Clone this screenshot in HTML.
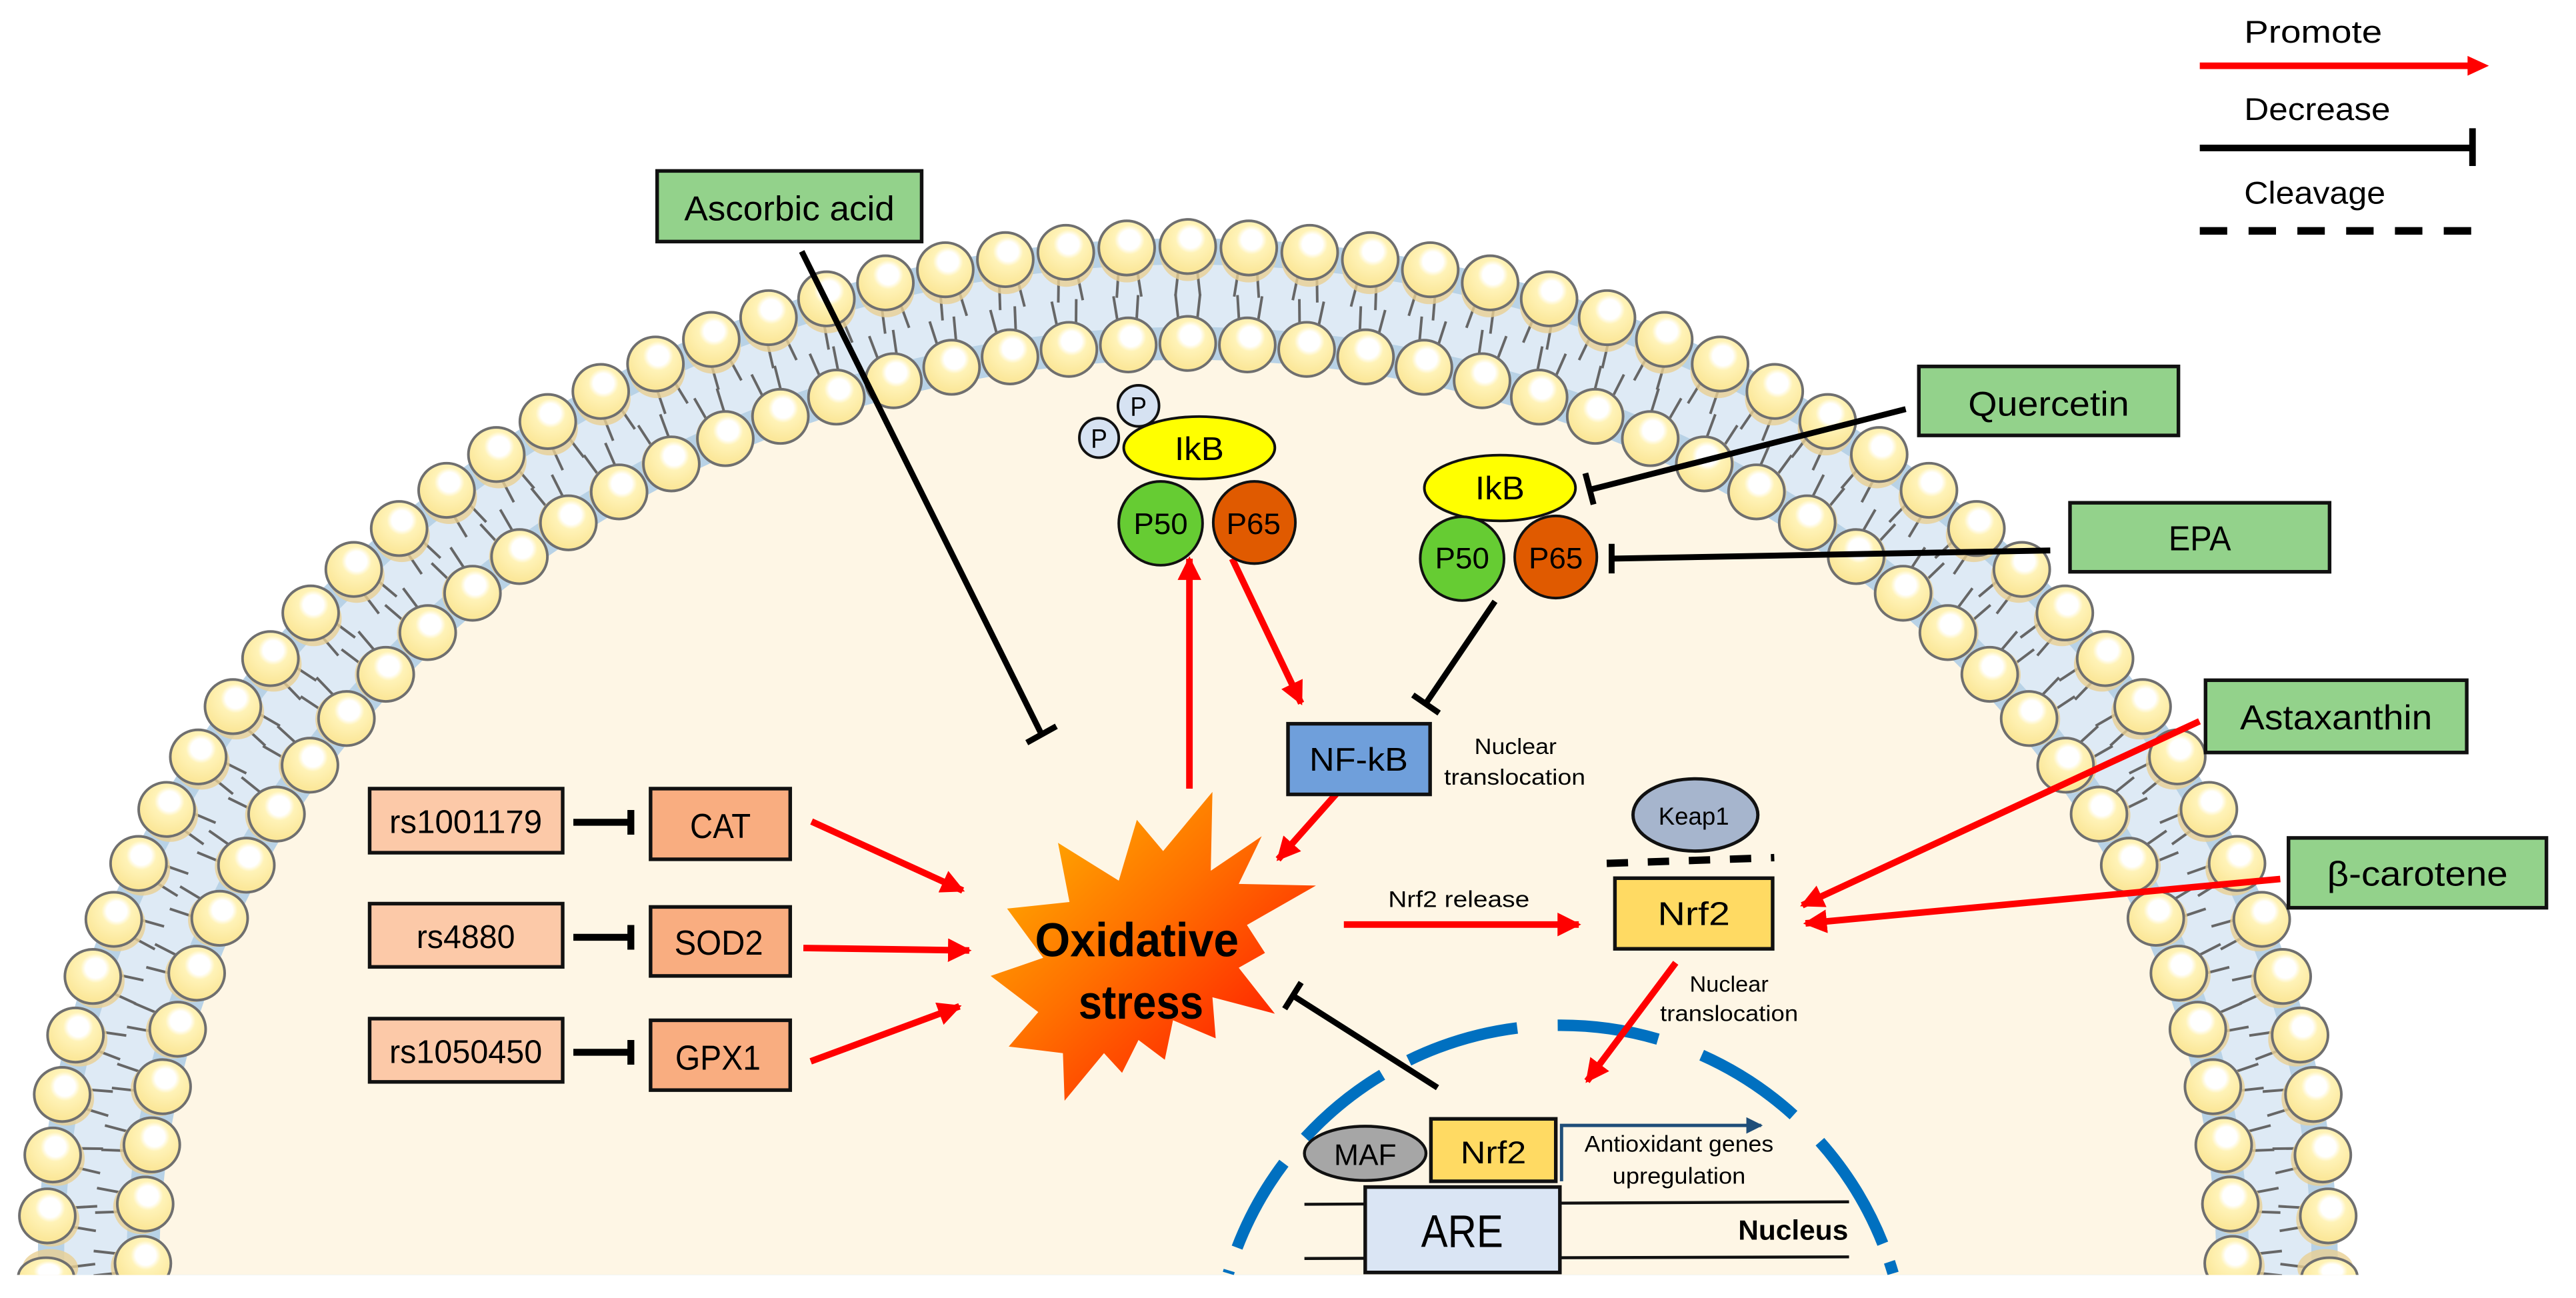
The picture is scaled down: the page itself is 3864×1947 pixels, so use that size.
<!DOCTYPE html>
<html><head><meta charset="utf-8"><style>
html,body{margin:0;padding:0;background:#fff;width:3864px;height:1947px;overflow:hidden;}
svg{display:block;}
text{font-family:"Liberation Sans",sans-serif;fill:#000;}
</style></head><body>
<svg id="s" width="3864" height="1947" viewBox="0 0 1568 790" xmlns="http://www.w3.org/2000/svg" overflow="hidden">
<defs>
<radialGradient id="hd" cx="0.55" cy="0.35" r="0.6">
<stop offset="0" stop-color="#ffffff"/><stop offset="0.3" stop-color="#ffffff"/><stop offset="0.45" stop-color="#fff3b8"/><stop offset="1" stop-color="#fbe799"/>
</radialGradient>
<linearGradient id="st" x1="0" y1="0" x2="1" y2="1">
<stop offset="0" stop-color="#ffc000"/><stop offset="0.45" stop-color="#ff7000"/><stop offset="1" stop-color="#ff0000"/>
</linearGradient>
<marker id="ar" viewBox="0 0 10 10" refX="9" refY="5" markerWidth="3.6" markerHeight="3.6" orient="auto" markerUnits="strokeWidth">
<path d="M0,0 L10,5 L0,10 z" fill="#ff0000"/></marker>
<marker id="ab" viewBox="0 0 10 10" refX="9" refY="5" markerWidth="5" markerHeight="5" orient="auto" markerUnits="strokeWidth">
<path d="M0,0 L10,5 L0,10 z" fill="#1f4e79"/></marker>
<clipPath id="cl"><rect x="0" y="0" width="1568" height="776"/></clipPath>
</defs>
<rect width="1568" height="790" fill="#fff"/>
<g clip-path="url(#cl)">
<g id="bands"></g>
<g id="mem"></g>
</g>

<!-- legend -->
<text x="1366" y="26" font-size="19" textLength="84" lengthAdjust="spacingAndGlyphs">Promote</text>
<line x1="1339" y1="40" x2="1503" y2="40" stroke="#ff0000" stroke-width="4"/>
<path d="M1502,34 L1515,40 L1502,46 z" fill="#ff0000"/>
<text x="1366" y="73" font-size="19" textLength="89" lengthAdjust="spacingAndGlyphs">Decrease</text>
<line x1="1339" y1="90" x2="1505" y2="90" stroke="#000" stroke-width="4"/>
<line x1="1505" y1="78" x2="1505" y2="101" stroke="#000" stroke-width="4"/>
<text x="1366" y="124" font-size="19" textLength="86" lengthAdjust="spacingAndGlyphs">Cleavage</text>
<line x1="1339" y1="140.5" x2="1506" y2="140.5" stroke="#000" stroke-width="4.6" stroke-dasharray="16.7 13"/>

<!-- nucleus arc -->
<g fill="none" stroke="#0070c0" stroke-width="7" clip-path="url(#cl)" id="nuc"></g>

<!-- starburst -->
<polygon fill="url(#st)" points="738,482 708,518 692,499 681,536 644,513 651,549 613,553 635,583 603,594 632,616 614,637 647,641 648,670 672,641 683,653 693,633 709,645 714,621 740,632 738,607 776,617 754,589 770,580 759,563 801,539 754,538 768,509 737,530"/>
<text x="692" y="582" font-size="29" font-weight="bold" text-anchor="middle" textLength="124" lengthAdjust="spacingAndGlyphs">Oxidative</text>
<text x="694.5" y="620" font-size="29" font-weight="bold" text-anchor="middle" textLength="76" lengthAdjust="spacingAndGlyphs">stress</text>

<!-- green boxes -->
<g stroke="#111" stroke-width="2.2" fill="#93d28b">
<rect x="400" y="104" width="161" height="43"/>
<rect x="1168" y="223" width="158" height="42"/>
<rect x="1260" y="306" width="158" height="42"/>
<rect x="1342.5" y="414" width="159" height="44"/>
<rect x="1393" y="510" width="157" height="42.5"/>
</g>
<text x="480.5" y="134" font-size="21" text-anchor="middle" textLength="128" lengthAdjust="spacingAndGlyphs">Ascorbic acid</text>
<text x="1247" y="253" font-size="21" text-anchor="middle" textLength="98" lengthAdjust="spacingAndGlyphs">Quercetin</text>
<text x="1339" y="335" font-size="21" text-anchor="middle" textLength="38" lengthAdjust="spacingAndGlyphs">EPA</text>
<text x="1422" y="444" font-size="21" text-anchor="middle" textLength="117" lengthAdjust="spacingAndGlyphs">Astaxanthin</text>
<text x="1471.5" y="539" font-size="21" text-anchor="middle" textLength="110" lengthAdjust="spacingAndGlyphs">β-carotene</text>

<!-- inhibitor lines -->
<g stroke="#000" stroke-width="3.6" fill="none">
<line x1="488" y1="153" x2="634" y2="447"/>
<line x1="625" y1="452" x2="643" y2="442"/>
<line x1="1160" y1="249" x2="968" y2="298"/>
<line x1="965" y1="288" x2="970" y2="307"/>
<line x1="1248" y1="335" x2="981" y2="340"/>
<line x1="981" y1="331" x2="981" y2="349"/>
<line x1="910" y1="366" x2="868" y2="428"/>
<line x1="860" y1="423" x2="876" y2="434"/>
<line x1="875" y1="662" x2="787" y2="606"/>
<line x1="782" y1="614" x2="792" y2="598"/>
</g>
<g stroke="#000" stroke-width="4.2">
<line x1="349" y1="500.5" x2="384" y2="500.5"/><line x1="384" y1="493" x2="384" y2="508"/>
<line x1="349" y1="570.5" x2="384" y2="570.5"/><line x1="384" y1="563" x2="384" y2="578"/>
<line x1="349" y1="640.5" x2="384" y2="640.5"/><line x1="384" y1="633" x2="384" y2="648"/>
</g>

<!-- rs / enzyme boxes -->
<g stroke="#111" stroke-width="2.2">
<rect x="225" y="480" width="117.5" height="39" fill="#fcc9a8"/>
<rect x="225" y="550" width="117.5" height="38.5" fill="#fcc9a8"/>
<rect x="225" y="620" width="117.5" height="38.5" fill="#fcc9a8"/>
<rect x="396" y="480" width="85" height="43" fill="#f9ad80"/>
<rect x="396" y="552" width="85" height="42" fill="#f9ad80"/>
<rect x="396" y="621" width="85" height="42.5" fill="#f9ad80"/>
</g>
<text x="283.5" y="507" font-size="20" text-anchor="middle" textLength="93" lengthAdjust="spacingAndGlyphs">rs1001179</text>
<text x="283.5" y="577" font-size="20" text-anchor="middle" textLength="60" lengthAdjust="spacingAndGlyphs">rs4880</text>
<text x="283.5" y="647" font-size="20" text-anchor="middle" textLength="93" lengthAdjust="spacingAndGlyphs">rs1050450</text>
<text x="438.5" y="510" font-size="21" text-anchor="middle" textLength="37" lengthAdjust="spacingAndGlyphs">CAT</text>
<text x="437.5" y="581" font-size="21" text-anchor="middle" textLength="54" lengthAdjust="spacingAndGlyphs">SOD2</text>
<text x="437" y="651" font-size="21" text-anchor="middle" textLength="52" lengthAdjust="spacingAndGlyphs">GPX1</text>

<!-- red arrows -->
<g stroke="#ff0000" stroke-width="4" fill="none" marker-end="url(#ar)">
<line x1="494" y1="500" x2="586" y2="542"/>
<line x1="489" y1="577" x2="590" y2="578.5"/>
<line x1="493.5" y1="646" x2="584" y2="612.5"/>
<line x1="724" y1="480" x2="724" y2="340"/>
<line x1="750" y1="340" x2="792" y2="428"/>
<line x1="818" y1="478" x2="778" y2="523"/>
<line x1="818" y1="562.7" x2="961" y2="562.7"/>
<line x1="1338.8" y1="439" x2="1097" y2="551"/>
<line x1="1388" y1="535" x2="1099" y2="562"/>
<line x1="1020" y1="586" x2="966" y2="658"/>
</g>

<!-- IkB complexes -->
<g stroke="#111" stroke-width="1.6">
<circle cx="693" cy="247" r="12.5" fill="#d6e2f2"/>
<circle cx="669" cy="266.5" r="12" fill="#d6e2f2"/>
<ellipse cx="730" cy="272.5" rx="46" ry="19" fill="#ffff00"/>
<circle cx="706.5" cy="318.5" r="25.5" fill="#66cc33"/>
<circle cx="763.5" cy="318" r="25" fill="#e05a00"/>
<ellipse cx="913" cy="297" rx="46" ry="20" fill="#ffff00"/>
<circle cx="890" cy="340" r="25.5" fill="#66cc33"/>
<circle cx="947" cy="339" r="25" fill="#e05a00"/>
</g>
<g font-size="16" text-anchor="middle">
<text x="693" y="253" textLength="10" lengthAdjust="spacingAndGlyphs">P</text>
<text x="669" y="272.5" textLength="10" lengthAdjust="spacingAndGlyphs">P</text>
<text x="730" y="280" font-size="20" textLength="30" lengthAdjust="spacingAndGlyphs">IkB</text>
<text x="706.5" y="325" font-size="18" textLength="33" lengthAdjust="spacingAndGlyphs">P50</text>
<text x="763" y="325" font-size="18" textLength="33" lengthAdjust="spacingAndGlyphs">P65</text>
<text x="913" y="304" font-size="20" textLength="30" lengthAdjust="spacingAndGlyphs">IkB</text>
<text x="890" y="346" font-size="18" textLength="33" lengthAdjust="spacingAndGlyphs">P50</text>
<text x="947" y="346" font-size="18" textLength="33" lengthAdjust="spacingAndGlyphs">P65</text>
</g>

<!-- NF-kB -->
<rect x="784" y="440.5" width="86.5" height="43" fill="#6f9fdb" stroke="#111" stroke-width="2.2"/>
<text x="827" y="469" font-size="20" text-anchor="middle" textLength="60" lengthAdjust="spacingAndGlyphs">NF-kB</text>
<text x="922.5" y="459" font-size="13.5" text-anchor="middle" textLength="50" lengthAdjust="spacingAndGlyphs">Nuclear</text>
<text x="922" y="477.5" font-size="13.5" text-anchor="middle" textLength="86" lengthAdjust="spacingAndGlyphs">translocation</text>

<!-- Keap1 / Nrf2 -->
<ellipse cx="1032" cy="496" rx="38" ry="22" fill="#a6b5cd" stroke="#111" stroke-width="2"/>
<text x="1031" y="502" font-size="15" text-anchor="middle" textLength="43" lengthAdjust="spacingAndGlyphs">Keap1</text>
<line x1="978" y1="525.5" x2="1080" y2="522" stroke="#000" stroke-width="4.5" stroke-dasharray="13 12"/>
<rect x="983" y="534.5" width="96" height="43" fill="#ffda63" stroke="#111" stroke-width="2.2"/>
<text x="1031" y="563" font-size="20" text-anchor="middle" textLength="44" lengthAdjust="spacingAndGlyphs">Nrf2</text>
<text x="888" y="552" font-size="14" text-anchor="middle" textLength="86" lengthAdjust="spacingAndGlyphs">Nrf2 release</text>
<text x="1052.5" y="603.5" font-size="13.5" text-anchor="middle" textLength="48" lengthAdjust="spacingAndGlyphs">Nuclear</text>
<text x="1052.5" y="621.5" font-size="13.5" text-anchor="middle" textLength="84" lengthAdjust="spacingAndGlyphs">translocation</text>

<!-- nucleus content -->
<g stroke="#111" stroke-width="1.8">
<line x1="794" y1="733" x2="1125.5" y2="731.5"/>
<line x1="794" y1="766" x2="1125.5" y2="765"/>
</g>
<ellipse cx="831" cy="702" rx="37" ry="16.5" fill="#a6a6a6" stroke="#111" stroke-width="1.8"/>
<text x="831" y="709" font-size="18" text-anchor="middle" textLength="38" lengthAdjust="spacingAndGlyphs">MAF</text>
<rect x="871" y="681" width="76" height="38" fill="#ffda63" stroke="#111" stroke-width="2.2"/>
<text x="909" y="708" font-size="19" text-anchor="middle" textLength="40" lengthAdjust="spacingAndGlyphs">Nrf2</text>
<polyline points="950.5,719 950.5,685 1072,685" fill="none" stroke="#1f4e79" stroke-width="2" marker-end="url(#ab)"/>
<text x="1022" y="701" font-size="14" text-anchor="middle" textLength="115" lengthAdjust="spacingAndGlyphs">Antioxidant genes</text>
<text x="1022" y="720.5" font-size="14" text-anchor="middle" textLength="81" lengthAdjust="spacingAndGlyphs">upregulation</text>
<rect x="831" y="722.5" width="118.5" height="52" fill="#dae5f4" stroke="#111" stroke-width="2.2"/>
<text x="890" y="759" font-size="28" text-anchor="middle" textLength="50" lengthAdjust="spacingAndGlyphs">ARE</text>
<text x="1125" y="754.5" font-size="17" font-weight="bold" text-anchor="end" textLength="67" lengthAdjust="spacingAndGlyphs">Nucleus</text>
</svg>
<script>
(function(){
var NS="http://www.w3.org/2000/svg";
var mem=document.getElementById("mem"), bands=document.getElementById("bands");
var cx=723,cy=770,YB=776;
function el(n,a,p){var e=document.createElementNS(NS,n);for(var k in a)e.setAttribute(k,a[k]);(p||mem).appendChild(e);return e;}
function cap(a,b,fill){
  var dy=YB-cy; var hx=a*Math.sqrt(Math.max(0,1-(dy/b)*(dy/b)));
  el("path",{d:"M"+(cx-hx)+","+YB+" A"+a+","+b+" 0 1 1 "+(cx+hx)+","+YB+" Z",fill:fill},bands);
}
cap(700,625,"#b8d2e6");cap(684,609,"#deeaf5");cap(646,571,"#b8d2e6");cap(626,551,"#fef6e5");
function ring(a,b,step,inward){
  var pts=[];
  function pos(t){return [cx+a*Math.sin(t),cy-b*Math.cos(t)];}
  [1,-1].forEach(function(dir){
    var t=0, acc=0;
    var prev=pos(t);
    if(dir>0)pts.push([t,prev]);
    var dt=0.0005*dir;
    while(Math.abs(t)<2.0){
      t+=dt;var p=pos(t);acc+=Math.hypot(p[0]-prev[0],p[1]-prev[1]);prev=p;
      if(p[1]>788)break;
      if(acc>=step){pts.push([t,p]);acc=0;}
    }
  });
  var tails=el("g",{stroke:"#666","stroke-width":"1.6"});
  var heads=el("g",{});
  pts.forEach(function(q){
    var t=q[0],p=q[1];
    var nx=Math.sin(t)/a, ny=-Math.cos(t)/b; var L=Math.hypot(nx,ny); nx/=L; ny/=L;
    var s=inward?-1:1;
    var tx=-ny, ty=nx;
    for(var k=-1;k<=1;k+=2){
      var bx=p[0]+tx*5.5*k, by=p[1]+ty*5.5*k;
      var y2=by-s*ny*30+ty*2*k;
      if(y2<790) el("line",{x1:bx-s*nx*12,y1:by-s*ny*12,x2:bx-s*nx*30+tx*2*k,y2:y2},tails);
    }
    var ry=Math.min(16.5,789-p[1]);
    if(ry<2)return;
    el("ellipse",{cx:p[0]-s*nx*2.5,cy:Math.min(p[1]-s*ny*2.5+2,772),rx:17,ry:Math.min(17,ry),fill:"#e9cf93",opacity:"0.8"},heads);
    el("ellipse",{cx:p[0],cy:p[1],rx:17,ry:ry,fill:"url(#hd)",stroke:"#6f6f6f","stroke-width":"1.6"},heads);
  });
}
ring(695,620,37,false);
ring(636,561,36,true);
var nuc=document.getElementById("nuc");
var ncx=950,ncy=835,r=211;
function arc(a1,a2){
  var r1=a1*Math.PI/180,r2=a2*Math.PI/180;
  var x1=ncx+r*Math.sin(r1),y1=ncy-r*Math.cos(r1),x2=ncx+r*Math.sin(r2),y2=ncy-r*Math.cos(r2);
  el("path",{d:"M"+x1+","+y1+" A"+r+","+r+" 0 0 1 "+x2+","+y2},nuc);
}
[[-73.5,-73],[-69,-53],[-47.5,-31],[-26,-7.2],[-0.5,16.3],[24,42.2],[48.4,68.3],[71.5,73.5]].forEach(function(d){arc(d[0],d[1]);});
})();
</script>
</body></html>
